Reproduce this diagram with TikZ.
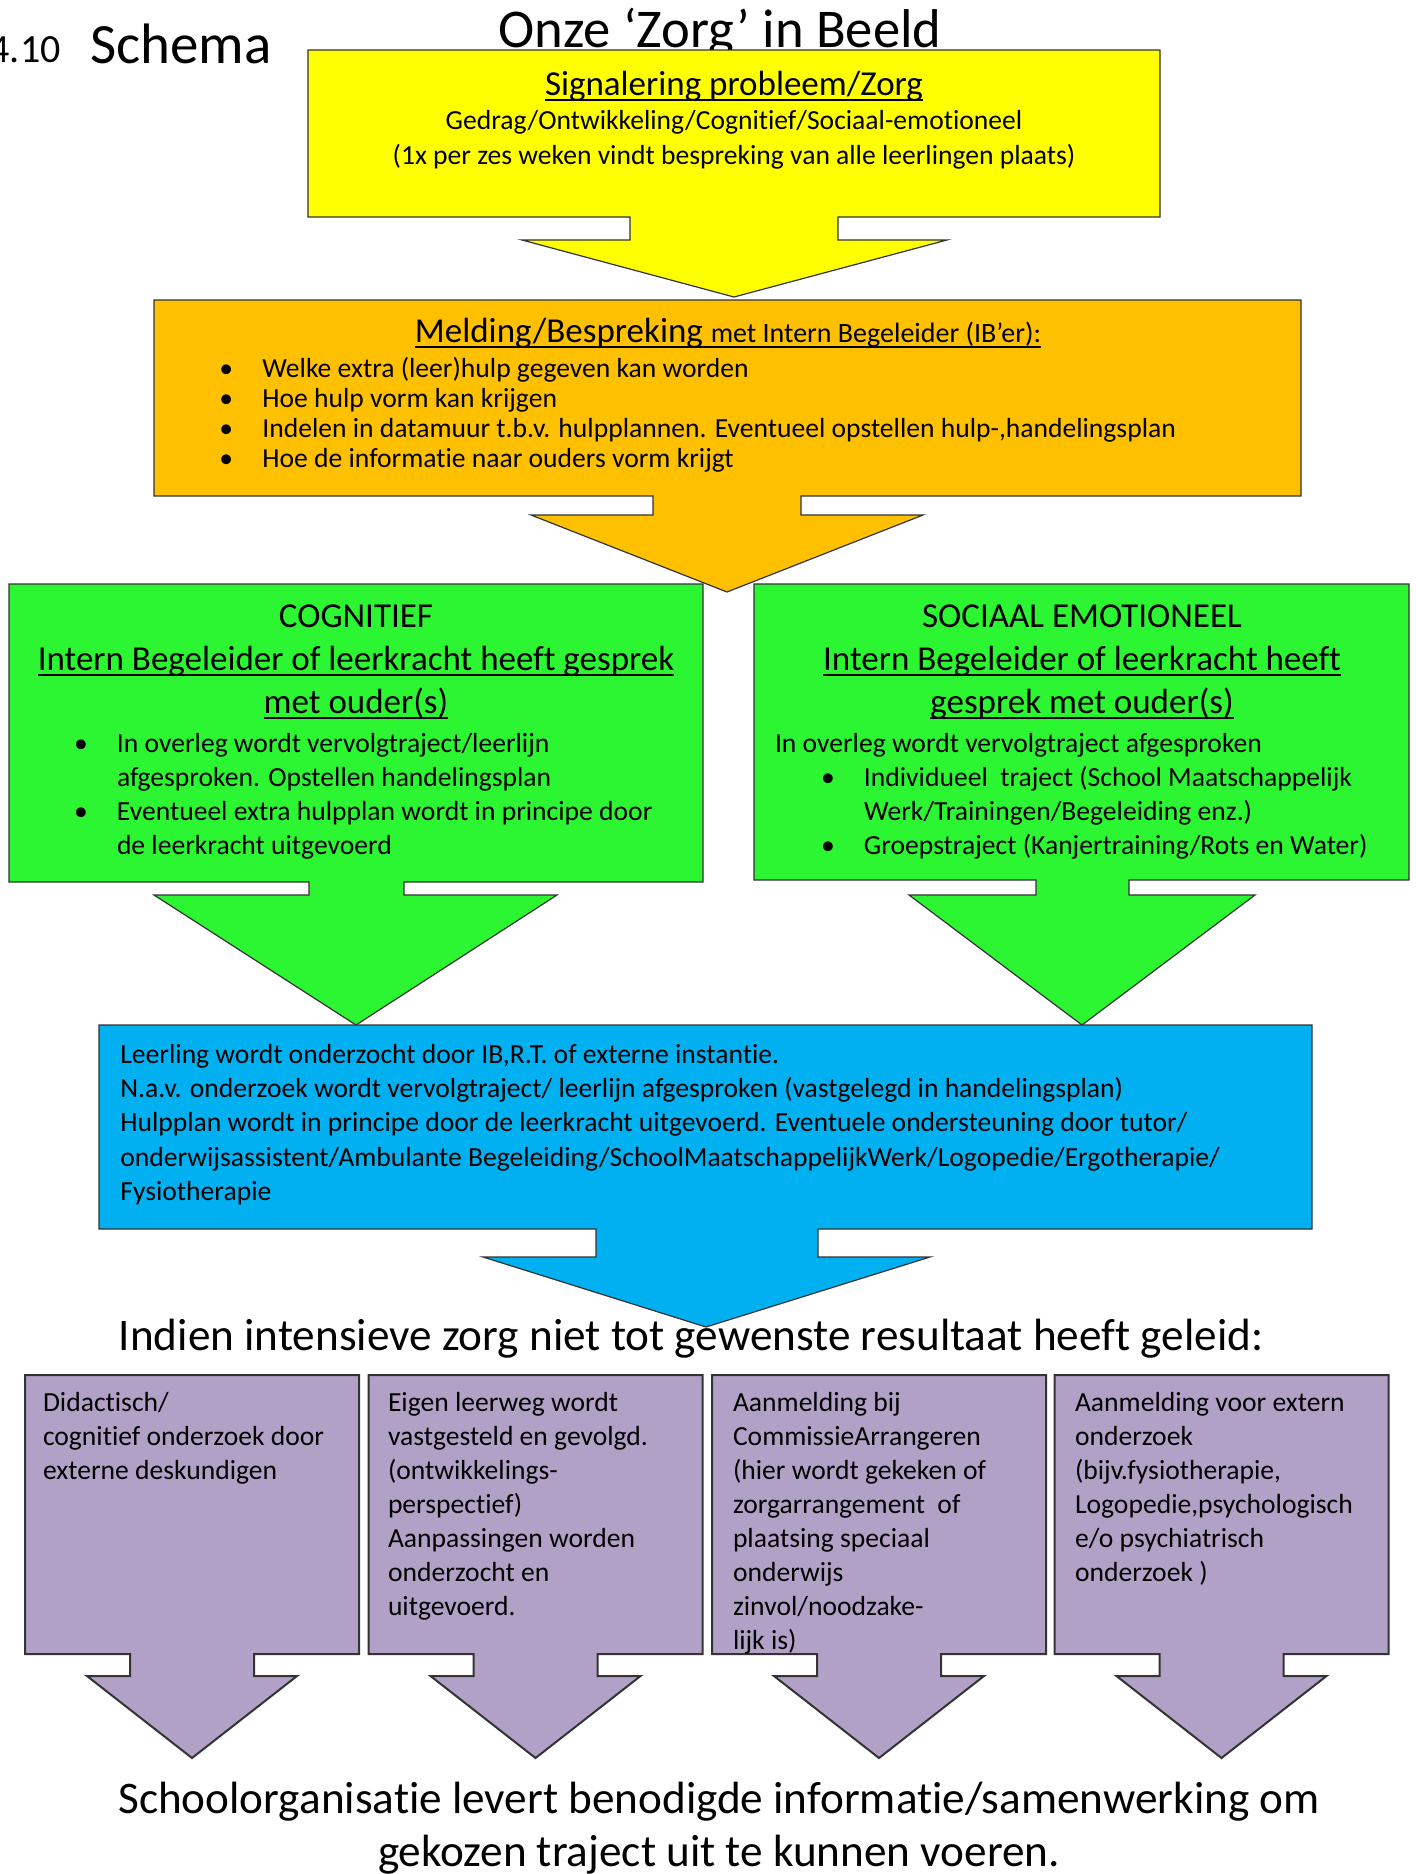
\documentclass[tikz,border=0pt]{standalone}
\usepackage{fontspec}
\setmainfont{Carlito}[Ligatures=NoCommon]
\definecolor{cyellow}{RGB}{255,255,0}
\definecolor{corange}{RGB}{255,192,0}
\definecolor{cgreen}{RGB}{44,245,50}
\definecolor{cblue}{RGB}{0,176,240}
\definecolor{cpurple}{RGB}{178,161,199}
\newcommand\myul[1]{\setbox0=\hbox{#1}\rlap{\vrule height -0.1em depth 0.16em width \wd0}\box0}
\newcommand\bul{\llap{\makebox[21.5pt][l]{\textbullet}}}
\begin{document}
\begin{tikzpicture}[x=0.5pt,y=-0.5pt,
  calloutline/.style={draw=black!80,line width=0.6pt,line join=miter},
  body/.style={inner sep=0pt,outer sep=0pt,font=\fontsize{13.8}{17}\selectfont},
  head/.style={inner sep=0pt,outer sep=0pt,font=\fontsize{17.5}{21.5}\selectfont},
  big/.style={inner sep=0pt,outer sep=0pt,font=\fontsize{22.6}{26.5}\selectfont}]
\useasboundingbox (0,0) rectangle (1416,1874);

% titles
\node[inner sep=0pt,anchor=base east,font=\fontsize{20}{24}\selectfont] (num) at (61,62) {4.10};
\node[inner sep=0pt,anchor=base west,font=\fontsize{28.5}{32}\selectfont] (schema) at (90,63) {Schema};
\node[inner sep=0pt,anchor=base,font=\fontsize{27.3}{31}\selectfont] (title) at (720,47) {Onze ‘Zorg’ in Beeld};

% yellow
\path[calloutline,fill=cyellow] (308,50) -- (1160,50) -- (1160,217) -- (838,217) -- (838,240) -- (947,240) -- (734,297) -- (522,240) -- (630,240) -- (630,217) -- (308,217) -- cycle;
\node[head,anchor=base] (ytitle) at (734,95) {\myul{Signalering probleem/Zorg}};
\node[body,anchor=base] (yl1) at (734,129) {Gedrag/Ontwikkeling/Cognitief/Sociaal-emotioneel};
\node[body,anchor=base] (yl2) at (734,164) {(1x per zes weken vindt bespreking van alle leerlingen plaats)};

% orange
\path[calloutline,fill=corange] (154,300) -- (1301,300) -- (1301,496) -- (801,496) -- (801,515) -- (923,515) -- (727,592) -- (531,515) -- (653,515) -- (653,496) -- (154,496) -- cycle;
\node[head,anchor=base] (otitle) at (728,342) {\myul{Melding/Bespreking {\fontsize{14}{17}\selectfont met Intern Begeleider (IB’er):}}};
\node[inner sep=0pt,anchor=base west,font=\fontsize{13.8}{15}\selectfont] (olist) at (262,377) {\begin{tabular}[t]{@{}l@{}}
\bul Welke extra (leer)hulp gegeven kan worden\\
\bul Hoe hulp vorm kan krijgen\\
\bul Indelen in datamuur t.b.v. hulpplannen. Eventueel opstellen hulp-,handelingsplan\\
\bul Hoe de informatie naar ouders vorm krijgt
\end{tabular}};

% green left
\path[calloutline,fill=cgreen] (9,584) -- (703,584) -- (703,882) -- (404,882) -- (404,895) -- (557,895) -- (356,1025) -- (154,895) -- (309,895) -- (309,882) -- (9,882) -- cycle;
\node[head,anchor=base] (gltitle) at (356,627) {\begin{tabular}[t]{@{}c@{}}
COGNITIEF\\
\myul{Intern Begeleider of leerkracht heeft gesprek}\\
\myul{met ouder(s)}
\end{tabular}};
\node[body,anchor=base west] (gllist) at (117,752) {\begin{tabular}[t]{@{}l@{}}
\bul In overleg wordt vervolgtraject/leerlijn\\
afgesproken. Opstellen handelingsplan\\
\bul Eventueel extra hulpplan wordt in principe door\\
de leerkracht uitgevoerd
\end{tabular}};

% green right
\path[calloutline,fill=cgreen] (754,584) -- (1409,584) -- (1409,880) -- (1129,880) -- (1129,895) -- (1255,895) -- (1082,1025) -- (909,895) -- (1036,895) -- (1036,880) -- (754,880) -- cycle;
\node[head,anchor=base] (grtitle) at (1082,627) {\begin{tabular}[t]{@{}c@{}}
SOCIAAL EMOTIONEEL\\
\myul{Intern Begeleider of leerkracht heeft}\\
\myul{gesprek met ouder(s)}
\end{tabular}};
\node[body,anchor=base west] (grlist) at (864,752) {\begin{tabular}[t]{@{}l@{}}
\hspace*{-44.5pt}In overleg wordt vervolgtraject afgesproken\\
\bul Individueel\ \ traject (School Maatschappelijk\\
Werk/Trainingen/Begeleiding enz.)\\
\bul Groepstraject (Kanjertraining/Rots en Water)
\end{tabular}};

% blue
\path[calloutline,fill=cblue] (99,1025) -- (1312,1025) -- (1312,1229) -- (818,1229) -- (818,1257) -- (930,1257) -- (706,1327) -- (483,1257) -- (596,1257) -- (596,1229) -- (99,1229) -- cycle;
\node[inner sep=0pt,anchor=base west,font=\fontsize{13.8}{17.2}\selectfont] (btext) at (120,1063) {\begin{tabular}[t]{@{}l@{}}
Leerling wordt onderzocht door IB,R.T. of externe instantie.\\
N.a.v. onderzoek wordt vervolgtraject/ leerlijn afgesproken (vastgelegd in handelingsplan)\\
Hulpplan wordt in principe door de leerkracht uitgevoerd. Eventuele ondersteuning door tutor/\\
onderwijsassistent/Ambulante Begeleiding/SchoolMaatschappelijkWerk/Logopedie/Ergotherapie/\\
Fysiotherapie
\end{tabular}};

\node[big,anchor=base] (indien) at (691,1350) {Indien intensieve zorg niet tot gewenste resultaat heeft geleid:};

% purple
\foreach \c in {192,535.5,879,1221.5}{
\path[calloutline,line width=1pt,fill=cpurple] ({\c-167},1375) -- ({\c+167},1375) -- ({\c+167},1654) -- ({\c+62},1654) -- ({\c+62},1676) -- ({\c+105},1676) -- (\c,1758) -- ({\c-105},1676) -- ({\c-62},1676) -- ({\c-62},1654) -- ({\c-167},1654) -- cycle;
}
\node[body,anchor=base west] (p1) at (43,1411) {\begin{tabular}[t]{@{}l@{}}
Didactisch/\\
cognitief onderzoek door\\
externe deskundigen
\end{tabular}};
\node[body,anchor=base west] (p2) at (388,1411) {\begin{tabular}[t]{@{}l@{}}
Eigen leerweg wordt\\
vastgesteld en gevolgd.\\
(ontwikkelings-\\
perspectief)\\
Aanpassingen worden\\
onderzocht en\\
uitgevoerd.
\end{tabular}};
\node[body,anchor=base west] (p3) at (733,1411) {\begin{tabular}[t]{@{}l@{}}
Aanmelding bij\\
CommissieArrangeren\\
(hier wordt gekeken of\\
zorgarrangement\ \ of\\
plaatsing speciaal\\
onderwijs\\
zinvol/noodzake-\\
lijk is)
\end{tabular}};
\node[body,anchor=base west] (p4) at (1075,1411) {\begin{tabular}[t]{@{}l@{}}
Aanmelding voor extern\\
onderzoek\\
(bijv.fysiotherapie,\\
Logopedie,psychologisch\\
e/o psychiatrisch\\
onderzoek )
\end{tabular}};

\node[big,anchor=base] (bot1) at (719,1813) {Schoolorganisatie levert benodigde informatie/samenwerking om};
\node[big,anchor=base] (bot2) at (719,1866) {gekozen traject uit te kunnen voeren.};
\end{tikzpicture}
\end{document}
